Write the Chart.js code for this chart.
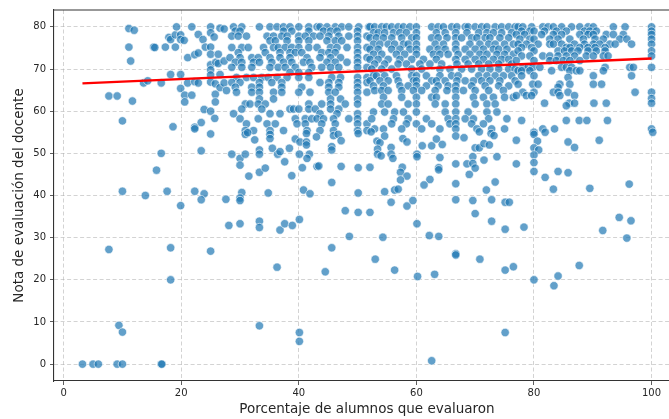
<!DOCTYPE html>
<html lang="es">
<head>
<meta charset="utf-8">
<script src="https://cdn.jsdelivr.net/npm/chart.js@4.4.0/dist/chart.umd.min.js"></script>
<style>
  html, body { margin: 0; padding: 0; background: #fff; overflow: hidden; }
  #grafico { display: block; }
</style>
</head>
<body>
<canvas id="grafico" width="700" height="419"></canvas>
<script>
const ticksX = [0, 20, 40, 60, 80, 100];
const ticksY = [0, 10, 20, 30, 40, 50, 60, 70, 80];
const tituloX = 'Porcentaje de alumnos que evaluaron';
const tituloY = 'Nota de evaluación del docente';

// recta de tendencia (dos extremos)
const tendenciaX = [3.2, 100];
const tendenciaY = [66.6, 72.5];

// [porcentaje, nota] de cada docente
const evaluaciones = [
  [3.2,0],[5.0,0],[5.9,0],[9.1,0],[10.0,0],[16.6,0],[16.7,0],[9.4,9.2],[10.0,7.6],[7.7,27.2],[18.2,27.6],[18.2,20.0],[25.0,26.8],
  [11.1,79.6],[12.0,79.2],[11.1,75.2],[11.4,71.9],[11.7,62.4],[10.0,57.7],[7.7,63.6],[9.1,63.6],[10.0,41.0],[13.9,40.0],
  [13.6,66.7],[14.3,67.2],[16.6,66.7],[15.3,75.2],[15.5,75.1],[17.3,75.2],[17.9,77.5],[18.2,77.0],[19.0,78.1],[19.2,80.0],
  [19.0,75.2],[18.2,68.7],[19.9,78.1],[19.9,77.0],[20.5,76.8],[19.9,68.7],[19.9,65.4],[20.6,63.8],[20.6,62.2],[21.1,72.7],
  [21.8,80.0],[21.8,63.8],[21.1,66.7],[22.3,73.4],[22.9,73.8],[22.9,78.2],[23.7,77.0],[24.1,75.2],[25.0,75.2],[25.0,80.0],
  [25.0,78.6],[25.0,73.5],[25.0,71.0],[25.0,69.8],[25.0,68.6],[25.0,66.9],[25.6,77.6],[25.9,71.6],[26.3,73.5],[26.3,71.3],
  [26.6,79.7],[27.3,79.5],[26.6,68.7],[25.8,66.5],[26.6,65.6],[25.8,64.0],[25.8,62.2],[27.3,71.9],[27.3,66.7],[27.7,64.9],
  [22.3,67.0],[22.9,66.7],[23.9,60.4],[25.0,60.0],[25.7,58.3],[23.4,57.3],[22.3,56.2],[22.3,55.8],[18.6,56.3],[25.0,54.6],
  [16.6,50.0],[23.4,50.6],[15.8,46.0],[17.6,41.0],[22.3,41.0],[23.9,40.4],[23.4,39.0],[19.9,37.6],
  [28.9,80],[30.3,80],[33.3,80],[35.1,80],[36.3,80],[37.4,80],[38.5,80],[40,80],[41.7,80],[43.1,80],[43.6,80],[44.8,80],[46.2,80],[47.3,80],[48.5,80],[50.2,80],[51.9,80],
  [29.2,79.0],[30.0,79.0],[37.4,79.0],[38.8,79.0],[41.7,79.0],[44.2,79.0],[45.4,79.0],[46.5,79.0],[50.0,79.0],
  [28.6,77.8],[29.7,77.8],[31.1,77.8],[34.6,77.8],[35.7,77.8],[37.1,77.8],[38.0,77.8],[40.0,77.8],[41.1,77.8],[42.5,77.8],[43.6,77.8],[45.1,77.8],[46.8,77.8],[48.5,77.8],[50.0,77.8],[51.6,77.8],
  [35.1,76.7],[36.0,76.7],[38.0,76.7],[40.0,76.7],[41.7,76.7],[44.8,76.7],[46.2,76.7],[47.3,76.7],[50.0,76.7],
  [28.6,75.1],[30.3,75.1],[31.4,75.1],[34.0,75.1],[35.7,75.1],[36.5,75.1],[37.7,75.1],[38.8,75.1],[40.0,75.1],[41.7,75.1],[43.1,75.1],[45.4,75.1],[46.5,75.1],[48.2,75.1],[50.0,75.1],[51.6,75.1],
  [29.7,73.9],[34.3,73.9],[36.8,73.9],[38.5,73.9],[39.4,73.9],[40.5,73.9],[43.9,73.9],[45.1,73.9],[46.2,73.9],[50.0,73.9],
  [28.3,72.7],[30.0,72.7],[32.0,72.7],[33.1,72.7],[35.1,72.7],[36.8,72.7],[38.5,72.7],[41.4,72.7],[43.6,72.7],[45.4,72.7],[47.1,72.7],[50.0,72.7],[51.6,72.7],
  [29.2,71.6],[30.3,71.6],[32.3,71.6],[33.3,71.6],[35.4,71.6],[37.4,71.6],[38.8,71.6],[40.8,71.6],[41.9,71.6],[44.8,71.6],[46.2,71.6],[48.2,71.6],[50.0,71.6],
  [28.6,70.4],[30.3,70.4],[32.0,70.4],[35.1,70.4],[36.5,70.4],[37.7,70.4],[39.4,70.4],[42.2,70.4],[43.9,70.4],[45.4,70.4],[46.8,70.4],[50.0,70.4],[51.6,70.4],
  [38.5,69.2],[40.0,69.2],[41.7,69.2],
  [29.4,68.0],[31.1,68.0],[32.3,68.0],[33.7,68.0],[34.8,68.0],[36.3,68.0],[38.0,68.0],[40.0,68.0],[41.7,68.0],[45.6,68.0],[47.1,68.0],[50.0,68.0],[51.6,68.0],
  [28.6,66.8],[30.0,66.8],[33.3,66.8],[35.4,66.8],[37.1,66.8],[43.6,66.8],[45.1,66.8],[46.8,66.8],[50.0,66.8],[51.6,66.8],
  [29.2,65.7],[32.0,65.7],[33.3,65.7],[37.1,65.7],[40.5,65.7],[45.1,65.7],[46.8,65.7],[50.0,65.7],
  [29.4,64.5],[32.0,64.5],[33.3,64.5],[35.7,64.5],[37.1,64.5],[40.0,64.5],[41.9,64.5],[45.1,64.5],[46.2,64.5],[50.0,64.5],[51.6,64.5],
  [33.3,62.9],[35.7,62.9],[45.4,62.9],[47.1,62.9],[50.0,62.9],
  [30.9,61.7],[31.7,61.7],[33.1,61.7],[34.3,61.7],[41.7,61.7],[43.9,61.7],[45.4,61.7],[47.9,61.7],[50.0,61.7],
  [30.3,60.5],[33.7,60.5],[38.5,60.5],[39.1,60.5],[40.0,60.5],[41.7,60.5],[42.8,60.5],[45.4,60.5],[46.8,60.5],
  [28.9,59.4],[35.1,59.4],[36.8,59.4],[43.6,59.4],[46.5,59.4],[50.0,59.4],
  [30.0,58.2],[33.1,58.2],[39.4,58.2],[41.1,58.2],[42.2,58.2],[43.1,58.2],[44.2,58.2],[45.9,58.2],[48.5,58.2],[50.0,58.2],
  [31.1,57.0],[34.6,57.0],[36.0,57.0],[39.7,57.0],[41.1,57.0],[43.9,57.0],[46.2,57.0],[50.0,57.0],[51.6,57.0],
  [30.9,55.4],[32.3,55.4],[35.1,55.4],[37.4,55.4],[41.4,55.4],[43.6,55.4],[45.9,55.4],[50.0,55.4],[51.6,55.4],
  [52.1,80],[52.9,80],[54.1,80],[54.9,80],[55.8,80],[56.9,80],[57.8,80],[58.9,80],[60.0,80],[62.6,80],[63.7,80],[64.6,80],[66.0,80],[66.9,80],[68.3,80],[68.8,80],[70.0,80],[71.1,80],[72.0,80],[73.4,80],[74.5,80],[75.7,80],[76.8,80],
  [52.7,78.6],[53.5,78.6],[54.6,78.6],[56.1,78.6],[57.2,78.6],[58.3,78.6],[60.0,78.6],[63.4,78.6],[64.9,78.6],[66.7,78.6],[68.6,78.6],[70.6,78.6],[72.0,78.6],[73.1,78.6],[74.5,78.6],[76.2,78.6],
  [52.1,77.4],[53.2,77.4],[54.4,77.4],[55.8,77.4],[57.5,77.4],[59.2,77.4],[60.0,77.4],[62.6,77.4],[63.7,77.4],[65.2,77.4],[66.7,77.4],[67.7,77.4],[69.4,77.4],[70.3,77.4],[71.7,77.4],[72.5,77.4],[74.2,77.4],[75.7,77.4],
  [52.7,75.9],[53.8,75.9],[55.2,75.9],[56.3,75.9],[57.8,75.9],[58.6,75.9],[60.0,75.9],[63.2,75.9],[64.6,75.9],[66.7,75.9],[69.1,75.9],[70.8,75.9],[72.3,75.9],[73.4,75.9],[75.0,75.9],[76.5,75.9],
  [52.1,74.7],[53.5,74.7],[55.8,74.7],[57.2,74.7],[58.9,74.7],[60.0,74.7],[62.3,74.7],[63.7,74.7],[64.9,74.7],[66.7,74.7],[68.3,74.7],[70.0,74.7],[71.4,74.7],[73.1,74.7],[74.0,74.7],[75.4,74.7],
  [52.7,73.5],[54.1,73.5],[56.6,73.5],[58.0,73.5],[60.0,73.5],[62.9,73.5],[64.0,73.5],[65.4,73.5],[67.1,73.5],[69.1,73.5],[70.8,73.5],[72.0,73.5],[73.7,73.5],[75.0,73.5],[76.5,73.5],
  [52.1,72.3],[53.5,72.3],[55.2,72.3],[57.2,72.3],[59.2,72.3],[61.2,72.3],[63.4,72.3],[66.7,72.3],[68.3,72.3],[70.0,72.3],[71.4,72.3],[73.1,72.3],[74.5,72.3],[75.7,72.3],
  [52.9,71.2],[54.6,71.2],[56.9,71.2],[58.3,71.2],[60.6,71.2],[62.3,71.2],[64.3,71.2],[66.9,71.2],[68.8,71.2],[70.6,71.2],[72.3,71.2],[74.0,71.2],[76.2,71.2],
  [52.4,70.0],[54.1,70.0],[55.8,70.0],[59.2,70.0],[60.9,70.0],[64.0,70.0],[65.7,70.0],[67.7,70.0],[69.4,70.0],[71.1,70.0],[72.5,70.0],[74.0,70.0],[75.7,70.0],[76.8,70.0],
  [52.7,68.4],[53.2,68.4],[54.6,68.4],[56.6,68.4],[59.2,68.4],[60.0,68.4],[61.7,68.4],[64.0,68.4],[66.0,68.4],[67.1,68.4],[70.6,68.4],[72.0,68.4],[73.4,68.4],[74.8,68.4],[76.2,68.4],
  [52.1,67.2],[53.8,67.2],[55.2,67.2],[56.9,67.2],[59.5,67.2],[60.0,67.2],[62.6,67.2],[63.4,67.2],[64.9,67.2],[66.9,67.2],[68.3,67.2],[69.7,67.2],[71.1,67.2],[72.5,67.2],[74.2,67.2],[76.8,67.2],
  [52.7,66.0],[54.4,66.0],[57.2,66.0],[58.6,66.0],[60.0,66.0],[61.7,66.0],[63.7,66.0],[65.4,66.0],[66.7,66.0],[69.4,66.0],[71.7,66.0],[74.0,66.0],[75.7,66.0],
  [52.9,64.9],[54.1,64.9],[55.2,64.9],[57.5,64.9],[59.5,64.9],[60.9,64.9],[63.2,64.9],[65.2,64.9],[66.7,64.9],[68.0,64.9],[70.0,64.9],[72.3,64.9],[74.8,64.9],
  [54.4,63.3],[57.5,63.3],[60.0,63.3],[62.6,63.3],[63.4,63.3],[66.7,63.3],[69.7,63.3],[71.4,63.3],[73.1,63.3],[75.0,63.3],[76.5,63.3],
  [54.1,61.7],[55.2,61.7],[58.6,61.7],[60.0,61.7],[63.2,61.7],[64.9,61.7],[66.7,61.7],[70.0,61.7],[72.0,61.7],[73.4,61.7],
  [52.7,59.8],[54.6,59.8],[56.3,59.8],[57.8,59.8],[60.0,59.8],[64.9,59.8],[66.7,59.8],[68.8,59.8],[72.0,59.8],[73.7,59.8],
  [52.4,58.2],[56.1,58.2],[58.6,58.2],[61.7,58.2],[65.4,58.2],[66.7,58.2],[68.3,58.2],[69.7,58.2],[72.3,58.2],[75.4,58.2],
  [55.8,57.0],[58.3,57.0],[60.0,57.0],[62.6,57.0],[65.7,57.0],[66.7,57.0],[69.4,57.0],[71.4,57.0],
  [52.9,55.8],[54.4,55.8],[57.5,55.8],[60.9,55.8],[64.0,55.8],[66.7,55.8],[70.3,55.8],[72.8,55.8],[75.0,55.8],
  [77.3,80],[78.1,80],[79.6,80],[81.5,80],[82.4,80],[83.3,80],[84.7,80],[86.4,80],[87.8,80],[89.2,80],[90.1,80],[93.5,80],[95.5,80],[100.0,80],
  [77.9,79.0],[79.3,79.0],[80.0,79.0],[81.8,79.0],[83.8,79.0],[85.5,79.0],[88.6,79.0],[89.5,79.0],[90.6,79.0],[100.0,79.0],
  [77.0,78.2],[78.4,78.2],[81.3,78.2],[83.3,78.2],[84.7,78.2],[87.8,78.2],[89.2,78.2],[90.1,78.2],[92.3,78.2],[93.5,78.2],[95.2,78.2],[100.0,78.2],
  [77.6,77.1],[79.3,77.1],[80.0,77.1],[82.7,77.1],[84.1,77.1],[86.1,77.1],[88.4,77.1],[90.4,77.1],[91.8,77.1],[94.6,77.1],[95.8,77.1],[100.0,77.1],
  [77.3,75.9],[78.7,75.9],[80.7,75.9],[82.7,75.9],[83.3,75.9],[84.7,75.9],[86.9,75.9],[88.6,75.9],[90.1,75.9],[91.2,75.9],[92.9,75.9],[93.8,75.9],[96.6,75.9],[100.0,75.9],
  [77.9,75.1],[79.6,75.1],[85.5,75.1],[86.1,75.1],[87.8,75.1],[89.2,75.1],[90.4,75.1],[92.1,75.1],
  [77.3,74.3],[80.0,74.3],[84.1,74.3],[85.2,74.3],[86.4,74.3],[87.5,74.3],[89.2,74.3],[90.6,74.3],[92.1,74.3],[100.0,74.3],
  [77.9,73.1],[79.3,73.1],[81.5,73.1],[82.7,73.1],[84.1,73.1],[85.5,73.1],[86.9,73.1],[88.9,73.1],[90.1,73.1],[91.8,73.1],[92.6,73.1],[100.0,73.1],
  [77.0,72.0],[80.0,72.0],[82.7,72.0],[83.8,72.0],[85.0,72.0],[86.1,72.0],[87.8,72.0],
  [78.1,70.4],[79.0,70.4],[79.8,70.4],[81.0,70.4],[84.7,70.4],[85.5,70.4],[86.4,70.4],[92.1,70.4],[96.3,70.4],[96.9,70.4],[100.0,70.4],
  [77.3,69.6],[77.9,69.6],[79.3,69.6],[83.0,69.6],[86.1,69.6],[87.2,69.6],[87.8,69.6],[91.8,69.6],
  [77.9,68.4],[80.0,68.4],[90.1,68.4],[96.6,68.4],[85.8,68.0],
  [77.3,66.4],[79.8,66.4],[80.7,66.4],[84.4,66.4],[86.1,66.4],[90.1,66.4],[91.5,66.4],[84.1,65.7],
  [78.1,64.5],[80.0,64.5],[83.3,64.5],[84.1,64.5],[85.8,64.5],[97.2,64.5],[100.0,64.5],
  [77.0,63.7],[78.7,63.7],[79.6,63.7],[84.4,63.7],[86.9,63.7],[100.0,63.0],
  [81.8,61.9],[86.0,61.9],[86.9,61.9],[90.2,61.9],[92.3,61.9],[100.0,61.9],[85.5,61.3],
  [77.9,57.8],[85.5,57.8],[87.7,57.8],[89.0,57.8],[92.5,57.8],
  [81.5,55.8],[83.5,55.8],[100.0,55.8],[80.0,55.0],
  [30.9,54.5],[31.3,54.9],[32.5,53.2],[35.1,54.5],[35.1,53.5],[39.4,53.4],[40.2,52.7],[41.3,54.7],[41.3,52.7],[41.3,52.0],
  [43.0,53.9],[45.9,54.2],[46.7,54.5],[47.2,53.0],[50.1,54.7],[52.3,55.1],[53.3,52.9],[53.8,52.5],[54.6,54.1],[55.7,51.4],
  [57.7,53.5],[58.4,52.7],[61.0,51.8],[62.6,51.8],[63.4,53.4],[64.4,52.1],
  [28.6,49.8],[30.0,48.8],[30.0,47.2],[30.9,49.8],[33.3,50.8],[33.3,49.8],[35.5,51.2],[36.4,49.8],[36.8,50.4],[38.4,51.2],
  [40.1,49.8],[41.8,49.8],[41.4,48.8],[45.6,51.6],[45.6,50.8],[53.4,51.0],[53.4,49.8],[54.0,49.4],[55.7,49.8],[56.0,48.8],
  [60.1,49.8],[60.1,49.2],[64.0,49.0],
  [31.5,44.6],[33.3,45.5],[34.3,46.5],[37.6,48.0],[38.8,44.7],[40.6,46.6],[43.1,46.9],[43.4,47.0],[47.2,46.9],[50.1,46.6],
  [52.1,46.7],[57.6,46.7],[57.3,45.5],[58.4,44.6],[57.3,43.7],[63.8,46.6],[63.8,46.1],[62.3,43.8],[61.3,42.5],[45.6,43.1],
  [40.8,41.3],[41.9,40.4],[30.3,40.7],[34.8,40.6],[27.6,39.1],[30.0,39.4],[30.0,38.8],[50.1,40.6],[54.6,40.9],[56.3,41.3],
  [56.9,41.5],[55.7,38.4],[58.4,37.5],[59.4,38.8],[47.9,36.4],[50.1,36.0],[52.1,36.0],
  [28.1,32.9],[30.0,33.3],[33.3,33.9],[33.3,32.4],[36.8,31.8],[37.6,33.3],[38.9,32.9],[40.1,34.3],[60.1,33.3],
  [48.6,30.3],[54.3,30.1],[62.2,30.5],[63.8,30.3],[45.6,27.6],
  [66.7,54.1],[68.1,53.7],[70.7,55.1],[72.7,54.7],[73.2,54.2],[77.0,53.1],[80.0,54.5],[80.6,52.9],[80.0,51.3],[80.8,50.8],
  [81.9,55.0],[85.8,52.7],[86.9,51.4],[91.1,53.1],[100.2,55.0],[70.0,51.3],[70.7,51.3],[71.5,52.3],[72.4,52.0],
  [69.6,49.2],[71.5,48.4],[73.7,49.2],[80.0,49.6],[66.7,47.5],[68.6,47.5],[69.6,47.6],[70.0,46.5],[77.0,47.5],[80.0,47.8],
  [80.0,45.7],[69.0,45.0],[81.9,44.3],[84.1,45.7],[85.8,45.4],[66.7,42.8],[73.4,43.2],[71.9,41.3],[83.3,41.5],[89.5,41.7],
  [96.2,42.7],[66.7,39.0],[69.6,38.8],[72.8,39.0],[75.1,38.4],[75.8,38.4],[70.0,35.7],[72.8,33.9],[75.1,32.0],[78.3,32.5],
  [91.7,31.7],[94.5,34.8],[96.5,34.0],[95.8,29.9],[66.7,26.2],
  [36.3,23.0],[44.5,21.9],[53.0,24.9],[56.3,22.3],[60.2,20.8],[63.1,21.3],[33.3,9.1],[40.1,7.5],[40.1,5.4],[62.6,0.8],
  [66.7,25.9],[70.8,24.9],[75.1,22.3],[76.5,23.1],[80.0,20.0],[84.1,20.9],[83.4,18.6],[87.7,23.4],[75.1,7.5]
];

function fijarTicks(valores) {
  return (escala) => {
    escala.ticks = valores.map((v) => ({ value: v }));
  };
}

const marcoSuperior = {
  id: 'marcoSuperior',
  afterDraw(chart) {
    const { ctx, chartArea } = chart;
    ctx.save();
    ctx.strokeStyle = '#333';
    ctx.lineWidth = 1.1;
    ctx.beginPath();
    ctx.moveTo(chartArea.left, chartArea.top);
    ctx.lineTo(chartArea.right, chartArea.top);
    ctx.lineTo(chartArea.right, chartArea.bottom);
    ctx.stroke();
    ctx.restore();
  }
};

const fuente = 'DejaVu Sans';
const colorGrilla = 'rgba(176,176,176,0.7)';

const grafico = new Chart(document.querySelector('#grafico'), {
  type: 'scatter',
  data: {
    datasets: [
      {
        type: 'line',
        label: 'Tendencia',
        data: tendenciaX.map((x, i) => ({ x: x, y: tendenciaY[i] })),
        borderColor: '#ff0000',
        borderWidth: 2.3,
        pointRadius: 0,
        fill: false,
        order: 0
      },
      {
        label: 'Docentes',
        data: evaluaciones.map(([x, y]) => ({ x: x, y: y })),
        backgroundColor: 'rgba(31,119,180,0.7)',
        borderColor: 'rgba(255,255,255,0.75)',
        borderWidth: 0.8,
        pointRadius: 4.2,
        order: 1
      }
    ]
  },
  options: {
    responsive: false,
    animation: false,
    devicePixelRatio: 1,
    layout: { padding: { top: 7, right: 20, bottom: 0, left: 0 } },
    plugins: { legend: { display: false }, tooltip: { enabled: false } },
    scales: {
      x: {
        type: 'linear',
        min: -1.64,
        max: 104.84,
        afterBuildTicks: fijarTicks(ticksX),
        afterFit: (escala) => { escala.height = 38; },
        ticks: { color: '#262626', font: { family: fuente, size: 10 }, padding: 2, maxRotation: 0 },
        grid: { color: colorGrilla, lineWidth: 0.8, tickColor: '#333', tickLength: 4, tickBorderDash: [] },
        border: { color: '#333', width: 1.1, dash: [4, 2.5] },
        title: { display: true, text: tituloX, color: '#262626', font: { family: fuente, size: 13.5 }, padding: { top: 0, bottom: 1 } }
      },
      y: {
        type: 'linear',
        min: -4,
        max: 84,
        afterBuildTicks: fijarTicks(ticksY),
        afterFit: (escala) => { escala.width = 54; },
        ticks: { color: '#262626', font: { family: fuente, size: 10 }, padding: 4 },
        grid: { color: colorGrilla, lineWidth: 0.8, tickColor: '#333', tickLength: 4, tickBorderDash: [] },
        border: { color: '#333', width: 1.1, dash: [4, 2.5] },
        title: { display: true, text: tituloY, color: '#262626', font: { family: fuente, size: 13.5 }, padding: { top: 11, bottom: 0 } }
      }
    }
  },
  plugins: [marcoSuperior]
});
</script>
</body>
</html>
